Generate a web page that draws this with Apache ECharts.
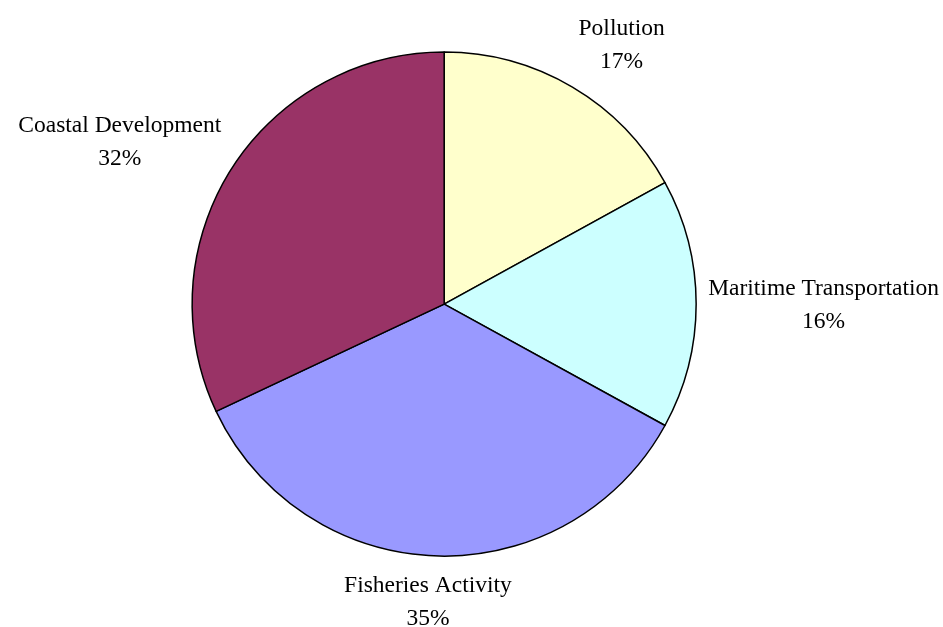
<!DOCTYPE html>
<html>
<head>
<meta charset="utf-8">
<script src="https://cdn.jsdelivr.net/npm/echarts@6/dist/echarts.min.js"></script>
<style>
  html, body { margin: 0; padding: 0; background: #ffffff; }
  #chart { width: 943px; height: 627px; }
</style>
</head>
<body>
<div id="chart"></div>
<script>
const categories = ['Pollution', 'Maritime Transportation', 'Fisheries Activity', 'Coastal Development'];
const values = [17, 16, 35, 32];
const colors = ['#FFFFCC', '#CCFFFF', '#9999FF', '#993366'];

const chart = echarts.init(document.getElementById('chart'));

const centerPct = [47.1, 48.5];
const radius = 252;
const total = values.reduce((a, b) => a + b, 0);

function clamp(v) {
  return Math.max(-1, Math.min(1, v));
}

// put each label just outside its slice, pushed sideways by its own size
function placeLabel(params) {
  const cx = chart.getWidth() * centerPct[0] / 100;
  const cy = chart.getHeight() * centerPct[1] / 100;
  let before = 0;
  for (let i = 0; i < params.dataIndex; i++) before += values[i];
  const mid = (before + values[params.dataIndex] / 2) / total * Math.PI * 2;
  const ux = Math.sin(mid);
  const uy = -Math.cos(mid);
  const w = params.labelRect.width / 2;
  const h = params.labelRect.height / 2;
  const d = radius + 12;
  return {
    x: cx + ux * d + w * clamp(ux * 3),
    y: cy + 1 + uy * d + h * clamp(uy * 1.2),
    align: 'center',
    verticalAlign: 'middle'
  };
}

chart.setOption({
  backgroundColor: '#ffffff',
  animation: false,
  series: [
    {
      type: 'pie',
      center: centerPct.map(v => v + '%'),
      radius: radius,
      startAngle: 90,
      clockwise: true,
      avoidLabelOverlap: false,
      data: categories.map((name, i) => ({
        name: name,
        value: values[i],
        itemStyle: { color: colors[i] }
      })),
      itemStyle: {
        borderColor: '#000000',
        borderWidth: 1.5
      },
      label: {
        show: true,
        position: 'outside',
        formatter: '{b}\n{d}%',
        fontFamily: 'Liberation Serif',
        fontSize: 23.5,
        lineHeight: 33,
        color: '#000000',
        align: 'center',
        overflow: 'none'
      },
      labelLine: { show: false },
      labelLayout: placeLabel,
      emphasis: { disabled: true }
    }
  ]
});
</script>
</body>
</html>
